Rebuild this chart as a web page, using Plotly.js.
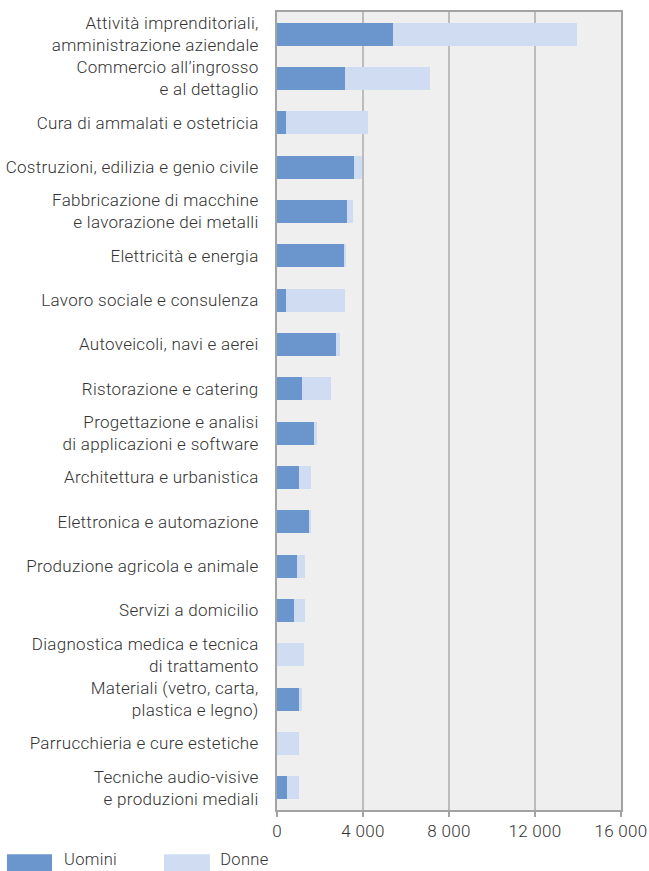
<!DOCTYPE html>
<html>
<head>
<meta charset="utf-8">
<script src="https://cdn.plot.ly/plotly-3.0.1.min.js"></script>
<style>
html,body{margin:0;padding:0;background:#fff;}
#chart{width:649px;height:871px;}
#chart .ytick text, #chart .xtick text, #chart .annotation-text { letter-spacing: 0.3px; }
</style>
</head>
<body>
<div id="chart"></div>
<script>
const categories = [
  "Attività imprenditoriali,<br>amministrazione aziendale",
  "Commercio all’ingrosso<br>e al dettaglio",
  "Cura di ammalati e ostetricia",
  "Costruzioni, edilizia e genio civile",
  "Fabbricazione di macchine<br>e lavorazione dei metalli",
  "Elettricità e energia",
  "Lavoro sociale e consulenza",
  "Autoveicoli, navi e aerei",
  "Ristorazione e catering",
  "Progettazione e analisi<br>di applicazioni e software",
  "Architettura e urbanistica",
  "Elettronica e automazione",
  "Produzione agricola e animale",
  "Servizi a domicilio",
  "Diagnostica medica e tecnica<br>di trattamento",
  "Materiali (vetro, carta,<br>plastica e legno)",
  "Parrucchieria e cure estetiche",
  "Tecniche audio-visive<br>e produzioni mediali"
];
const uomini = [5400, 3180, 430, 3600, 3270, 3130, 430, 2760, 1180, 1740, 1040, 1500, 950, 810, 15, 1040, 15, 480];
const donne  = [8550, 3950, 3820, 370, 280, 90, 2750, 190, 1350, 140, 560, 90, 370, 510, 1250, 120, 1020, 560];
const seriesNames = ["Uomini", "Donne"];
const seriesColors = ["#6a95cd", "#cfdcf2"];
const xTickVals = [0, 4000, 8000, 12000, 16000];
const xTickText = ["0", "4 000", "8 000", "12 000", "16 000"];

const data = [
  {type: "bar", orientation: "h", name: seriesNames[0], y: categories, x: uomini,
   marker: {color: seriesColors[0]}, hoverinfo: "x+name"},
  {type: "bar", orientation: "h", name: seriesNames[1], y: categories, x: donne,
   marker: {color: seriesColors[1]}, hoverinfo: "x+name"}
];

// custom legend (wide swatches like the reference), in paper coordinates
const legendSwatchX = [[-0.785, -0.654], [-0.3285, -0.195]];
const legendTextX = [-0.619, -0.1657];
const shapes = seriesNames.map((n, i) => ({
  type: "rect", xref: "paper", yref: "paper",
  x0: legendSwatchX[i][0], x1: legendSwatchX[i][1], y0: -0.0775, y1: -0.0555,
  fillcolor: seriesColors[i], line: {width: 0}
}));
const annotations = seriesNames.map((n, i) => ({
  xref: "paper", yref: "paper", x: legendTextX[i], y: -0.0625,
  xanchor: "left", yanchor: "middle", showarrow: false, text: n, borderpad: 0,
  font: {size: 16.5, color: "#333333", weight: 300}
}));

const layout = {
  width: 649, height: 871,
  barmode: "stack",
  bargap: 0.48,
  paper_bgcolor: "#ffffff",
  plot_bgcolor: "#efefef",
  font: {family: "Roboto, 'Open Sans', sans-serif", size: 17, color: "#333333", weight: 300},
  margin: {l: 277, r: 28, t: 12, b: 61, pad: 0},
  xaxis: {
    range: [0, 16000], tickmode: "array", tickvals: xTickVals, ticktext: xTickText,
    showgrid: true, gridcolor: "#bcbcbc", gridwidth: 1.5,
    showline: true, mirror: true, linecolor: "#a3a3a3", linewidth: 2,
    ticks: "outside", ticklen: 5, tickcolor: "#a3a3a3", tickwidth: 1.5,
    zeroline: false, fixedrange: true,
    tickfont: {size: 17, color: "#333333", weight: 300}
  },
  yaxis: {
    autorange: "reversed", type: "category",
    showline: true, mirror: true, linecolor: "#a3a3a3", linewidth: 2,
    showgrid: false, ticks: "", ticklabelstandoff: 13, fixedrange: true,
    tickfont: {size: 17, color: "#333333", weight: 300}
  },
  showlegend: false,
  shapes: shapes,
  annotations: annotations
};

Plotly.newPlot("chart", data, layout, {displayModeBar: false, staticPlot: true});
</script>
</body>
</html>
